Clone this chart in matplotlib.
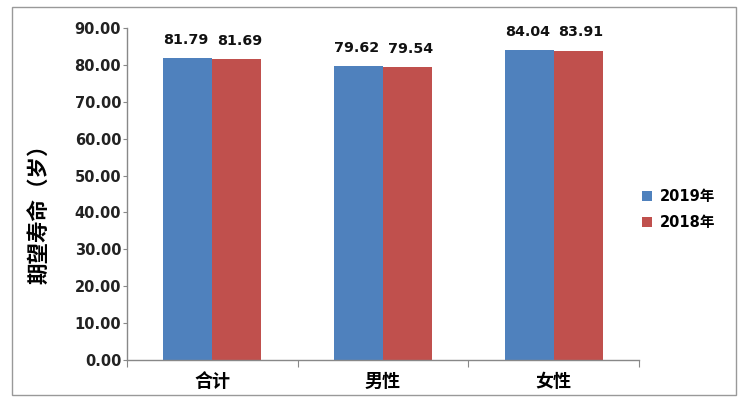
import matplotlib
matplotlib.use("Agg")
import matplotlib.pyplot as plt
from matplotlib.patches import Rectangle
import numpy as np

plt.rcParams['font.family'] = ['Noto Sans CJK SC', 'DejaVu Sans']

categories = ["合计", "男性", "女性"]
series_names = ["2019年", "2018年"]
values_2019 = [81.79, 79.62, 84.04]
values_2018 = [81.69, 79.54, 83.91]
y_ticks = [0, 10, 20, 30, 40, 50, 60, 70, 80, 90]
colors = ["#4F81BD", "#C0504D"]

fig = plt.figure(figsize=(7.5, 4.08), dpi=100)
ax = fig.add_axes([0.169, 0.118, 0.683, 0.813])

x = np.arange(len(categories))
w = 0.287
b1 = ax.bar(x - w / 2, values_2019, w, color=colors[0], label=series_names[0])
b2 = ax.bar(x + w / 2, values_2018, w, color=colors[1], label=series_names[1])

numfont = dict(family=['DejaVu Sans'], weight='bold', size=10.3)
for bars, vals, dx in ((b1, values_2019, -1), (b2, values_2018, 2)):
    for r, v in zip(bars, vals):
        ax.annotate(f"{v:.2f}", (r.get_x() + r.get_width() / 2, v),
                    xytext=(dx, 8), textcoords='offset points',
                    ha='center', va='bottom', color='#111111', **numfont)

ax.set_xlim(-0.5, len(categories) - 0.5)
ax.set_ylim(0, 90)
ax.set_yticks(y_ticks)
ax.set_yticklabels([f"{t:.2f}" for t in y_ticks])
for lab in ax.get_yticklabels():
    lab.set_fontfamily(['DejaVu Sans'])
    lab.set_fontweight('bold')
    lab.set_fontsize(10.5)
    lab.set_color('#222222')

ax.set_xticks(np.arange(-0.5, len(categories), 1.0))
ax.set_xticklabels([])
ax.set_xticks(x, minor=True)
ax.set_xticklabels(categories, minor=True, fontsize=13, fontweight='bold')
ax.tick_params(axis='x', which='minor', length=0, pad=9)
ax.tick_params(axis='x', which='major', length=5, direction='out', color='#888888')
ax.tick_params(axis='y', length=3, direction='out', color='#888888', pad=1)

for s in ('top', 'right'):
    ax.spines[s].set_visible(False)
for s in ('left', 'bottom'):
    ax.spines[s].set_color('#888888')
    ax.spines[s].set_linewidth(1.0)

ax.set_ylabel("期望寿命（岁）", fontsize=15.5, fontweight='bold')
ax.yaxis.set_label_coords(-0.150, 0.455)

leg = ax.legend(loc='center left', bbox_to_anchor=(0.995, 0.452), frameon=False,
                prop=dict(family=['DejaVu Sans', 'Noto Sans CJK SC'], weight='bold', size=10.5),
                handlelength=0.7, handleheight=0.7, handletextpad=0.5, labelspacing=0.75,
                borderaxespad=0.0)

fig.patches.append(Rectangle((12 / 750, 1 - 395 / 408), (736 - 12) / 750, (395 - 7) / 408,
                             transform=fig.transFigure, fill=False,
                             edgecolor='#999999', linewidth=1.0))

fig.savefig("out.png", dpi=100)
